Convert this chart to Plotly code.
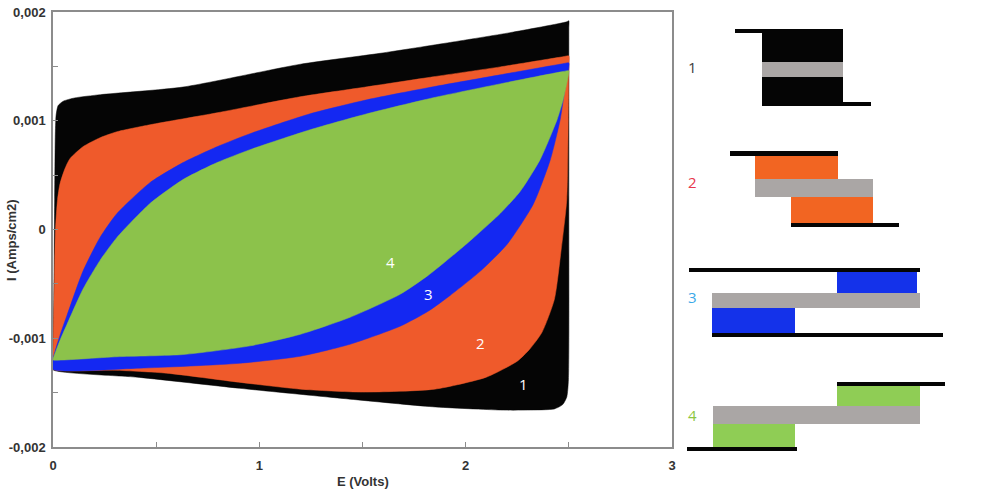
import plotly.graph_objects as go

# ---------------- data (E in volts, I in mA/cm2 -> converted to A/cm2 below) ----------------
# Loop 1 (black)
E1_fwd = [0, 0.004, 0.008, 0.011, 0.015, 0.025, 0.05, 0.105, 0.23, 0.63, 1.2, 1.585, 1.925, 2.215, 2.49, 2.5]
I1_fwd = [-1.24, -0.64, 0.28, 0.85, 1.05, 1.14, 1.18, 1.21, 1.24, 1.31, 1.52, 1.62, 1.72, 1.81, 1.91, 1.92]
E1_rev = [2.5, 2.5, 2.498, 2.49, 2.47, 2.43, 2.3, 2.17, 1.84, 1.44, 0.905, 0.42, 0]
I1_rev = [1.85, 0.28, -1.38, -1.54, -1.61, -1.65, -1.66, -1.66, -1.63, -1.56, -1.46, -1.36, -1.29]

# Loop 2 (orange)
E2_fwd = [0, 0.005, 0.012, 0.022, 0.034, 0.058, 0.082, 0.145, 0.228, 0.31, 0.47, 0.795, 1.197,
          1.522, 1.842, 2.167, 2.47, 2.5]
I2_fwd = [-1.193, -0.642, 0.0, 0.275, 0.422, 0.56, 0.651, 0.761, 0.844, 0.899, 0.963, 1.073, 1.22,
          1.312, 1.404, 1.495, 1.588, 1.596]
E2_rev = [2.5, 2.497, 2.49, 2.463, 2.43, 2.37, 2.31, 2.25, 2.1, 1.85, 1.5, 1.2, 0.9, 0.55, 0.3, 0]
I2_rev = [1.5, 1.009, 0.275, -0.183, -0.642, -0.945, -1.101, -1.211, -1.358, -1.468, -1.495,
          -1.468, -1.404, -1.321, -1.294, -1.284]

# Loop 3 (blue)
E3_fwd = [0, 0.034, 0.068, 0.145, 0.228, 0.31, 0.47, 0.63, 0.795, 0.955, 1.246, 1.522, 1.842,
          2.167, 2.47, 2.5]
I3_fwd = [-1.193, -0.972, -0.789, -0.385, -0.073, 0.147, 0.431, 0.615, 0.761, 0.881, 1.064, 1.193,
          1.312, 1.422, 1.524, 1.532]
E3_rev = [2.497, 2.48, 2.458, 2.41, 2.327, 2.2, 2.07, 1.925, 1.818, 1.682, 1.44, 1.2, 0.905, 0.42, 0]
I3_rev = [1.45, 1.28, 1.01, 0.64, 0.23, -0.138, -0.385, -0.606, -0.752, -0.89, -1.055, -1.165,
          -1.23, -1.275, -1.284]

# Loop 4 (green)
E4_fwd = [0, 0.034, 0.068, 0.145, 0.228, 0.31, 0.47, 0.63, 0.795, 0.955, 1.246, 1.522, 1.842,
          2.167, 2.47, 2.5]
I4_fwd = [-1.193, -1.018, -0.872, -0.55, -0.284, -0.073, 0.239, 0.459, 0.615, 0.734, 0.917, 1.064,
          1.211, 1.339, 1.452, 1.459]
E4_rev = [2.495, 2.472, 2.443, 2.36, 2.264, 2.167, 2.007, 1.818, 1.682, 1.44, 1.2, 0.955, 0.63, 0.31, 0]
I4_rev = [1.39, 1.19, 1.01, 0.64, 0.35, 0.147, -0.128, -0.422, -0.596, -0.807, -0.963, -1.07,
          -1.15, -1.17, -1.2]

loop_names = ["1", "2", "3", "4"]
loop_colors = ["#050505", "#ef5a2b", "#1428f2", "#8cc24b"]

# labels inside the loops
label_E = [2.278, 2.07, 1.818, 1.638]
label_I = [-1.42, -1.04, -0.596, -0.303]

# axis ticks
x_tickvals = [0, 0.5, 1, 1.5, 2, 2.5, 3]
x_ticktext = ["0", "", "1", "", "2", "", "3"]
y_tickvals = [-0.002, -0.0015, -0.001, -0.0005, 0, 0.0005, 0.001, 0.0015, 0.002]
y_ticktext = ["-0,002", "", "-0,001", "", "0", "", "0,001", "", "0,002"]

# schematic labels on the right
schem_labels = ["1", "2", "3", "4"]
schem_label_colors = ["#404040", "#e8364c", "#3aa8e8", "#8cc63f"]

# ---------------- figure ----------------
W, H = 985, 494
fig = go.Figure()


def amps(values):
    return [v * 1e-3 for v in values]


loops = [(E1_fwd, I1_fwd, E1_rev, I1_rev), (E2_fwd, I2_fwd, E2_rev, I2_rev),
         (E3_fwd, I3_fwd, E3_rev, I3_rev), (E4_fwd, I4_fwd, E4_rev, I4_rev)]
for (ef, i_f, er, ir), name, col in zip(loops, loop_names, loop_colors):
    fig.add_trace(go.Scatter(x=ef + er + [ef[0]], y=amps(i_f + ir + [i_f[0]]), mode="lines",
                             fill="toself", fillcolor=col,
                             line=dict(color=col, width=0.5, shape="spline", smoothing=0.6),
                             name=name, showlegend=False, hoverinfo="skip"))

for t, ex, iy in zip(loop_names, label_E, amps(label_I)):
    fig.add_annotation(x=ex, y=iy, xref="x", yref="y", text=t, showarrow=False,
                       xanchor="center", yanchor="middle",
                       font=dict(family="Open Sans", size=15, color="white"))


def px(x):
    return x / W


def py(y):
    return 1 - y / H


shapes = []


def rect(x0, y0, x1, y1, color):
    shapes.append(dict(type="rect", xref="paper", yref="paper", x0=px(x0), x1=px(x1),
                       y0=py(y1), y1=py(y0), fillcolor=color, line=dict(width=0), layer="above"))


BLK, GRY = "#050505", "#aaa6a5"
ORG, BLU, GRN = "#f26522", "#1432ea", "#8fcd55"
# schematic 1
rect(762, 30, 843, 106, BLK)
rect(762, 62, 843, 77, GRY)
rect(735, 29, 843, 33, BLK)
rect(843, 102, 871, 106, BLK)
# schematic 2
rect(755, 156, 838, 179, ORG)
rect(755, 179, 873, 197, GRY)
rect(791, 197, 873, 223, ORG)
rect(730, 151, 838, 156, BLK)
rect(791, 223, 899, 227, BLK)
# schematic 3
rect(837, 272, 917, 293, BLU)
rect(712, 293, 920, 308, GRY)
rect(712, 308, 795, 333, BLU)
rect(689, 268, 920, 272, BLK)
rect(712, 333, 943, 337, BLK)
# schematic 4
rect(837, 386, 920, 406, GRN)
rect(713, 406, 920, 424, GRY)
rect(713, 424, 795, 447, GRN)
rect(837, 382, 945, 386, BLK)
rect(687, 447, 797, 451, BLK)

schem_label_y = [67, 182, 297, 415]
for t, c, yy in zip(schem_labels, schem_label_colors, schem_label_y):
    fig.add_annotation(x=px(692), y=py(yy), xref="paper", yref="paper", text=t,
                       showarrow=False, xanchor="center", yanchor="middle",
                       font=dict(family="Open Sans", size=15, color=c))

# axis titles
fig.add_annotation(x=px(363), y=py(481), xref="paper", yref="paper", text="E (Volts)",
                   showarrow=False, xanchor="center", yanchor="middle",
                   font=dict(family="Liberation Sans", size=13, color="#333333"))
fig.add_annotation(x=px(12), y=py(240), xref="paper", yref="paper", text="I (Amps/cm2)",
                   textangle=-90, showarrow=False, xanchor="center", yanchor="middle",
                   font=dict(family="Liberation Sans", size=13, color="#333333"))

axis_common = dict(showline=True, linecolor="#8c8c8c", linewidth=1.5, mirror=True,
                   ticks="inside", ticklen=5, tickcolor="#8c8c8c", tickwidth=1,
                   showgrid=False, zeroline=False, automargin=False,
                   tickfont=dict(family="Liberation Sans", size=13, color="#333333"))

fig.update_layout(
    width=W, height=H, margin=dict(l=0, r=0, t=0, b=0),
    plot_bgcolor="white", paper_bgcolor="white", shapes=shapes,
    xaxis=dict(domain=[53 / W, 672 / W], range=[0, 3], tickvals=x_tickvals,
               ticktext=x_ticktext, ticklabelstandoff=6, **axis_common),
    yaxis=dict(domain=[47 / H, 482 / H], range=[-0.002, 0.002], tickvals=y_tickvals,
               ticktext=y_ticktext, ticklabelstandoff=3, **axis_common),
)
fig.update_xaxes(tickfont_weight="bold")
fig.update_yaxes(tickfont_weight="bold")
for a in fig.layout.annotations[-2:]:
    a.font.weight = "bold"

fig.write_html("out.html")
